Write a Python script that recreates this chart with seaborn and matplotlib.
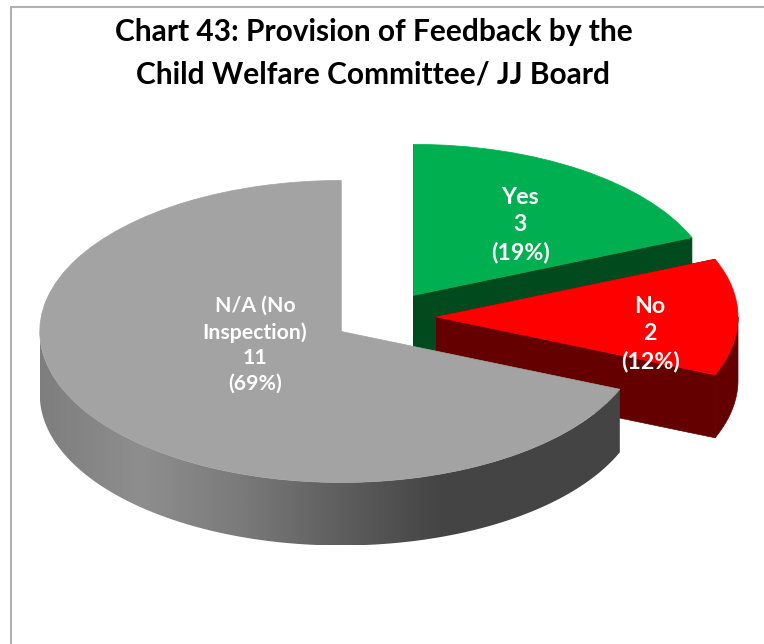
import numpy as np
import matplotlib
matplotlib.use("Agg")
import matplotlib.pyplot as plt
from matplotlib.colors import ListedColormap
from matplotlib.patches import Polygon, Rectangle
import seaborn as sns

categories = ["Yes", "No", "N/A (No\nInspection)"]
values = [3, 2, 11]
top_colors = ["#00B050", "#FF0000", "#A3A3A3"]
side_colors = ["#004A1E", "#640000", "#444444"]
title = "Chart 43: Provision of Feedback by the\nChild Welfare Committee/ JJ Board"
label_px = [(520, 225), (650, 334), (255, 345)]
label_sizes = [16.7, 16.7, 15.3]

W, H = 764, 644
CX, CY = 384.5, 317    # pixel position of the pie's centre
RX, RY = 301.5, 151    # pixel size of one radius
DEPTH = 63 / RY        # wall height in data units

sns.set_theme(style="white")
plt.rcParams["font.family"] = ["Lato", "DejaVu Sans"]

fig = plt.figure(figsize=(W / 100, H / 100), dpi=100, facecolor="white")
ax = fig.add_axes([0, 0, 1, 1])

wedges, _ = ax.pie(values, colors=top_colors, explode=[52 / RX] * 3, startangle=90,
                   counterclock=False, radius=1, wedgeprops={"linewidth": 0})

grey_ramp = ListedColormap(sns.blend_palette(
    ["#7E7E7E", "#8E8E8E", "#7A7A7A", "#5E5E5E", "#444444", "#444444", "#444444"], n_colors=256))

for i, w in enumerate(wedges):
    z = 2 * i + 1
    w.set_zorder(z + 1)
    w.set_edgecolor(top_colors[i])
    w.set_linewidth(0.5)
    cx, cy = w.center
    # flat cut faces of the slice
    if i < 2:
        for t in (w.theta1, w.theta2):
            ex, ey = cx + np.cos(np.radians(t)), cy + np.sin(np.radians(t))
            ax.fill([cx, ex, ex, cx], [cy, ey, ey - DEPTH, cy - DEPTH],
                    color=side_colors[i], lw=0.5, zorder=z)
    # curved outer wall: only the front half is visible
    ts = np.radians(np.linspace(w.theta1, w.theta2, 721))
    ts = ts[np.sin(ts) <= 1e-9]
    if len(ts) < 2:
        continue
    xs = cx + np.cos(ts)
    ys = cy + np.sin(ts)
    outline = np.column_stack([np.r_[xs, xs[::-1]], np.r_[ys, ys[::-1] - DEPTH]])
    if i < 2:
        ax.add_patch(Polygon(outline, closed=True, color=side_colors[i], lw=0.5, zorder=z))
    else:
        shape = Polygon(outline, closed=True, transform=ax.transData, fill=False, lw=0)
        ax.add_patch(shape)
        im = ax.imshow(np.linspace(0, 1, 512)[None, :], cmap=grey_ramp, aspect="auto",
                       extent=(cx - 1, cx + 1, cy - 1 - DEPTH, cy + 1), zorder=z)
        im.set_clip_path(shape)

ax.set_aspect("auto")
ax.set_xlim(-CX / RX, (W - CX) / RX)
ax.set_ylim((CY - H) / RY, CY / RY)
ax.axis("off")

total = sum(values)
for cat, v, (px, py), fs in zip(categories, values, label_px, label_sizes):
    ax.text((px - CX) / RX, (CY - py) / RY, f"{cat}\n{v}\n({round(100 * v / total)}%)",
            ha="center", va="center", color="white", fontsize=fs, fontweight="bold",
            linespacing=1.36, zorder=10)

fig.text(373.5 / W, 1 - 53 / H, title, ha="center", va="center", color="black",
         fontsize=21.5, fontweight="bold", linespacing=1.61)

fig.add_artist(Rectangle((10.5 / W, -0.1), 1, 1.1 - 6.5 / H, transform=fig.transFigure,
                         fill=False, edgecolor="#B0B0B0", linewidth=1.5))

fig.savefig("out.png", dpi=100)
